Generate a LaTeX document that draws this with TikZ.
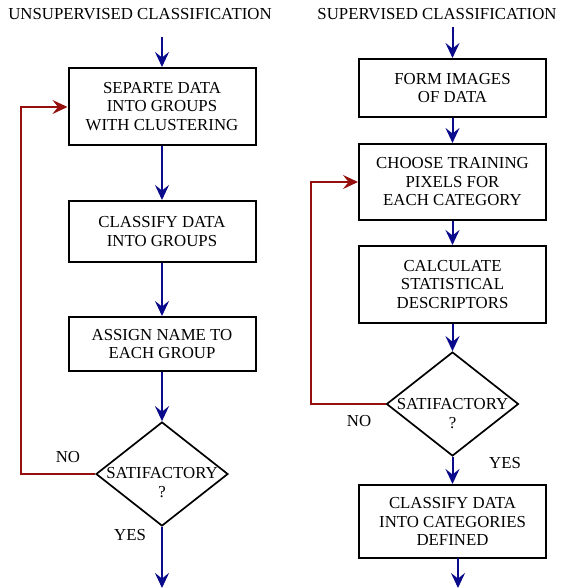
\documentclass[tikz,border=0pt]{standalone}
\usepackage{fontspec}
\setmainfont{Liberation Serif}
\usetikzlibrary{shapes.geometric,arrows.meta}
\definecolor{flowblue}{RGB}{10,10,140}
\definecolor{loopred}{RGB}{150,15,15}
\begin{document}
\begin{tikzpicture}[x=1pt,y=-1pt,
  procbox/.style={draw,line width=2pt,minimum width=187pt,align=center,inner sep=0pt,font=\fontsize{16.8}{18.5}\selectfont},
  decide/.style={draw,diamond,line width=1.7pt,minimum width=132pt,minimum height=104pt,inner sep=0pt,aspect=1.27},
  flow/.style={draw=flowblue,line width=2pt,-{Stealth[length=15pt,width=14pt,inset=5.5pt]}},
  loop/.style={draw=loopred,line width=1.6pt,-{Stealth[length=15pt,width=14pt,inset=5.5pt]}},
  lbl/.style={font=\fontsize{16.8}{18.5}\selectfont,inner sep=0pt},
  ttl/.style={font=\fontsize{16.8}{18.5}\selectfont,inner sep=0pt}]
\useasboundingbox (0,0) rectangle (562,588);
% left column
\node[ttl] (t1) at (140,14) {UNSUPERVISED CLASSIFICATION};
\coordinate (l0) at (162,37);
\node[procbox,minimum height=77pt] (b1) at (162,106.5) {SEPARTE DATA\\INTO GROUPS\\WITH CLUSTERING};
\node[procbox,minimum height=61pt] (b2) at (162,231.5) {CLASSIFY DATA\\INTO GROUPS};
\node[procbox,minimum height=54pt] (b3) at (162,344) {ASSIGN NAME TO\\EACH GROUP};
\node[decide] (d1) at (162,474) {};
\node[lbl] (s1) at (162,473) {SATIFACTORY};
\node[lbl] (q1) at (162,492) {?};
\coordinate (l9) at (162,588);
\node[lbl] (no1) at (68,457) {NO};
\node[lbl] (yes1) at (130,535) {YES};
\coordinate (lc) at (21,474);
\coordinate (ld) at (21,107);
\path[flow] (l0) -- (b1.north);
\path[flow] (b1.south) -- (b2.north);
\path[flow] (b2.south) -- (b3.north);
\path[flow] (b3.south) -- (d1.north);
\path[flow] (d1.south) -- (l9);
\path[loop] (d1.west) -- (lc) -- (ld) -- (b1.west |- ld);
% right column
\node[ttl] (t2) at (437,14) {SUPERVISED CLASSIFICATION};
\coordinate (r0) at (452.5,27);
\node[procbox,minimum height=58pt] (c1) at (452.5,88) {FORM IMAGES\\OF DATA};
\node[procbox,minimum height=76pt] (c2) at (452.5,182) {CHOOSE TRAINING\\PIXELS FOR\\EACH CATEGORY};
\node[procbox,minimum height=77pt] (c3) at (452.5,284.5) {CALCULATE\\STATISTICAL\\DESCRIPTORS};
\node[decide] (d2) at (452.5,404) {};
\node[lbl] (s2) at (452.5,404) {SATIFACTORY};
\node[lbl] (q2) at (452.5,423) {?};
\node[procbox,minimum height=73pt] (c4) at (452.5,521.5) {CLASSIFY DATA\\INTO CATEGORIES\\DEFINED};
\coordinate (r8) at (458,558);
\coordinate (r9) at (458,588);
\node[lbl] (no2) at (359,421) {NO};
\node[lbl] (yes2) at (505,463) {YES};
\coordinate (rc) at (311,404);
\coordinate (rd) at (311,182);
\path[flow] (r0) -- (c1.north);
\path[flow] (c1.south) -- (c2.north);
\path[flow] (c2.south) -- (c3.north);
\path[flow] (c3.south) -- (d2.north);
\path[flow] (d2.south) -- (c4.north);
\path[flow] (r8) -- (r9);
\path[loop] (d2.west) -- (rc) -- (rd) -- (c2.west);
\end{tikzpicture}
\end{document}
